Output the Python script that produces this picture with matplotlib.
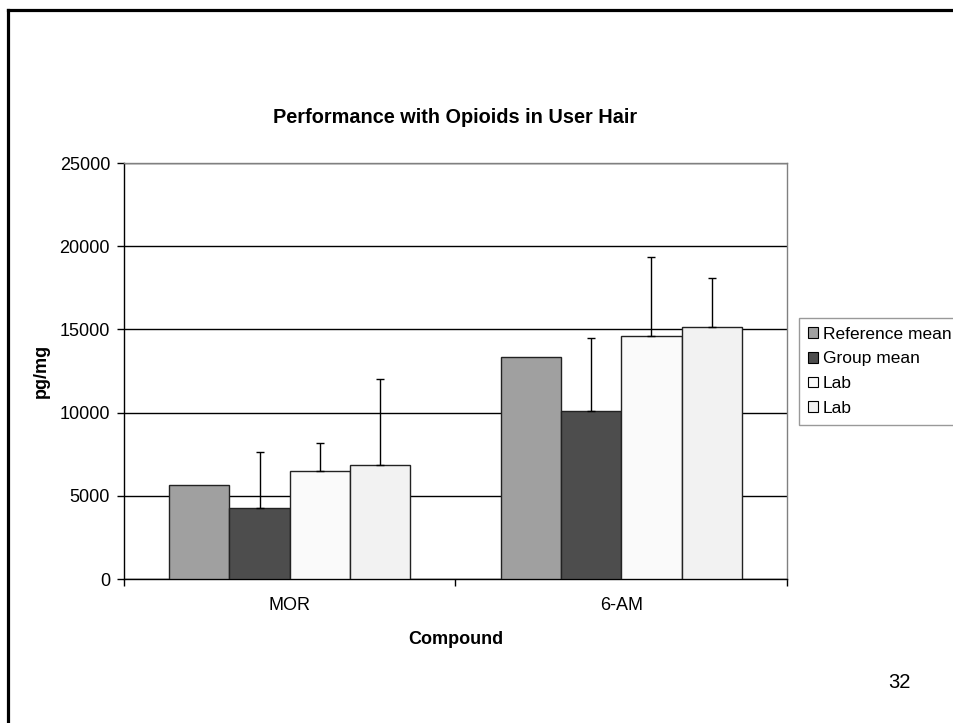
import matplotlib
matplotlib.use("Agg")
import matplotlib.pyplot as plt
import numpy as np
from matplotlib.patches import Patch
from matplotlib.lines import Line2D

plt.rcParams['font.family'] = ['Liberation Sans', 'DejaVu Sans']

categories = ["MOR", "6-AM"]
series_names = ["Reference mean", "Group mean", "Lab", "Lab"]
ref_mean = [5650, 13340]
group_mean = [4290, 10080]
lab_a = [6490, 14600]
lab_b = [6850, 15145]
group_err = [3320, 4420]
lab_a_err = [1660, 4770]
lab_b_err = [5170, 2965]
colors = ["#A0A0A0", "#4D4D4D", "#FAFAFA", "#F2F2F2"]

W, H = 954, 723
fig = plt.figure(figsize=(W / 100, H / 100), dpi=100)

# slide frame
fig.add_artist(Line2D([8 / W, 8 / W], [0, 1 - 10 / H], color="black", lw=2.3,
                      transform=fig.transFigure, solid_capstyle="projecting"))
fig.add_artist(Line2D([8 / W, 1], [1 - 10 / H, 1 - 10 / H], color="black", lw=2.3,
                      transform=fig.transFigure, solid_capstyle="projecting"))

ax = fig.add_axes([124 / W, 1 - 579 / H, (787 - 124) / W, (579 - 163) / H])

x = np.arange(len(categories))
bw = 1 / 5.5
series = [ref_mean, group_mean, lab_a, lab_b]
errs = [None, group_err, lab_a_err, lab_b_err]
for i, (vals, err, col) in enumerate(zip(series, errs, colors)):
    pos = x + (i - 1.5) * bw
    ax.bar(pos, vals, width=bw, color=col, edgecolor="#222222", linewidth=1.0,
           zorder=3)
    if err is not None:
        ax.errorbar(pos, vals, yerr=[np.zeros(len(err)), err], fmt="none",
                    ecolor="black", elinewidth=1.0, capsize=3, capthick=1.0,
                    zorder=4)

ax.set_xlim(-0.5, 1.5)
ax.set_ylim(0, 25000)
ax.set_yticks(np.arange(0, 25001, 5000))
ax.yaxis.grid(True, color="black", linewidth=1.0, zorder=0)
ax.set_axisbelow(True)
ax.set_xticks(x)
ax.set_xticklabels(categories, fontsize=13)
ax.set_xticks([-0.5, 0.5, 1.5], minor=True)
ax.tick_params(axis="x", which="major", length=0, pad=13)
ax.tick_params(axis="x", which="minor", length=5, direction="out", width=1)
ax.tick_params(axis="y", length=5, direction="out", width=1, labelsize=13, pad=5)

for s in ["top", "right"]:
    ax.spines[s].set_color("#808080")
for s in ["left", "bottom"]:
    ax.spines[s].set_color("black")
for s in ax.spines.values():
    s.set_linewidth(1.0)

ax.set_title("Performance with Opioids in User Hair", fontsize=14.3,
             fontweight="bold", pad=29)
ax.set_xlabel("Compound", fontsize=13, fontweight="bold", labelpad=12)
ax.set_ylabel("pg/mg", fontsize=13, fontweight="bold", labelpad=7)

handles = [Patch(facecolor=c, edgecolor="black", linewidth=0.8) for c in colors]
leg = fig.legend(handles, series_names, loc="upper left",
                 bbox_to_anchor=(799 / W, 1 - 318 / H - 0.01, 170 / W, 0.01),
                 mode="expand", fontsize=12.5, frameon=True, fancybox=False,
                 edgecolor="#808080", handlelength=0.58, handleheight=0.58,
                 handletextpad=0.3, labelspacing=0.56, borderpad=0.5,
                 borderaxespad=0)
leg.get_frame().set_linewidth(1.0)

fig.text(899 / W, 1 - 682 / H, "32", fontsize=14.5, ha="center", va="center")

fig.savefig("out.png", dpi=100)
